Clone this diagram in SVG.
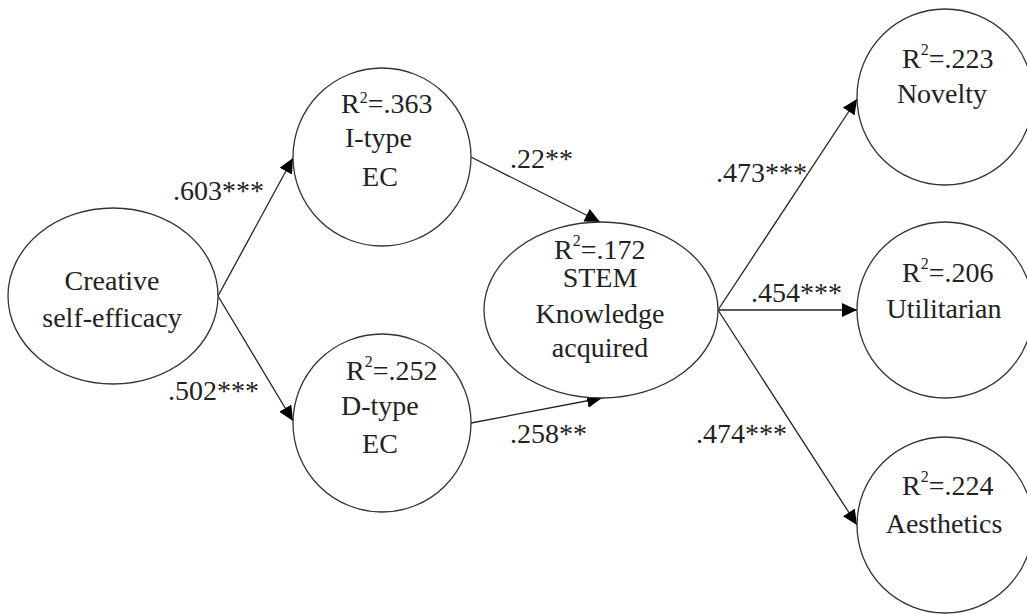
<svg xmlns="http://www.w3.org/2000/svg" width="1027" height="614" viewBox="0 0 1027 614">
<style>
.n{fill:#fff;stroke:#333;stroke-width:1.3}
.t{font-family:"Liberation Serif","Times New Roman",Tinos,"DejaVu Serif",serif;font-size:28px;fill:#222}
.m{text-anchor:middle}
.c{stroke:#222;stroke-width:1.3;fill:none;marker-end:url(#ah)}
.s{font-size:16px}
</style>
<defs>
<marker id="ah" markerUnits="userSpaceOnUse" markerWidth="16" markerHeight="14" refX="15" refY="7" orient="auto">
<path d="M0,0 L15,7 L0,14 z" fill="#000"/>
</marker>
</defs>
<rect width="1027" height="614" fill="#fff"/>
<g id="connectors">
<line class="c" x1="218" y1="296" x2="293" y2="158"/>
<line class="c" x1="218" y1="296" x2="293" y2="421"/>
<line class="c" x1="471" y1="157" x2="600" y2="222"/>
<line class="c" x1="471" y1="423" x2="602" y2="398"/>
<line class="c" x1="718" y1="310" x2="857" y2="99"/>
<line class="c" x1="718" y1="310" x2="857" y2="310"/>
<line class="c" x1="718" y1="310" x2="857" y2="525"/>
<text class="t" x="173" y="200">.603***</text>
<text class="t" x="168" y="400">.502***</text>
<text class="t" x="510" y="168">.22**</text>
<text class="t" x="510" y="443">.258**</text>
<text class="t" x="716" y="182">.473***</text>
<text class="t" x="751" y="302">.454***</text>
<text class="t" x="696" y="443">.474***</text>
</g>
<g id="creative">
<ellipse class="n" cx="113" cy="296" rx="105" ry="88"/>
<text class="t m" x="112" y="290">Creative</text>
<text class="t m" x="112" y="327">self-efficacy</text>
</g>
<g id="itype">
<circle class="n" cx="382" cy="157" r="89"/>
<text class="t" x="341" y="113">R<tspan class="s" dy="-10">2</tspan><tspan dy="10">=.363</tspan></text>
<text class="t" x="345" y="147">I-type</text>
<text class="t m" x="380" y="186">EC</text>
</g>
<g id="dtype">
<circle class="n" cx="382" cy="423" r="89"/>
<text class="t" x="346" y="380">R<tspan class="s" dy="-13">2</tspan><tspan dy="13">=.252</tspan></text>
<text class="t" x="341" y="415">D-type</text>
<text class="t m" x="380" y="453">EC</text>
</g>
<g id="stem">
<ellipse class="n" cx="601" cy="310" rx="117" ry="88"/>
<text class="t" x="554" y="259">R<tspan class="s" dy="-13">2</tspan><tspan dy="13">=.172</tspan></text>
<text class="t m" x="600" y="287">STEM</text>
<text class="t m" x="600" y="323">Knowledge</text>
<text class="t m" x="600" y="357">acquired</text>
</g>
<g id="novelty">
<circle class="n" cx="945" cy="97" r="88"/>
<text class="t" x="902" y="68">R<tspan class="s" dy="-13">2</tspan><tspan dy="13">=.223</tspan></text>
<text class="t m" x="942" y="103">Novelty</text>
</g>
<g id="utilitarian">
<circle class="n" cx="945" cy="310" r="88"/>
<text class="t" x="902" y="282">R<tspan class="s" dy="-13">2</tspan><tspan dy="13">=.206</tspan></text>
<text class="t m" x="944" y="318">Utilitarian</text>
</g>
<g id="aesthetics">
<circle class="n" cx="945" cy="525" r="88"/>
<text class="t" x="902" y="495">R<tspan class="s" dy="-13">2</tspan><tspan dy="13">=.224</tspan></text>
<text class="t m" x="944" y="533">Aesthetics</text>
</g>
</svg>
